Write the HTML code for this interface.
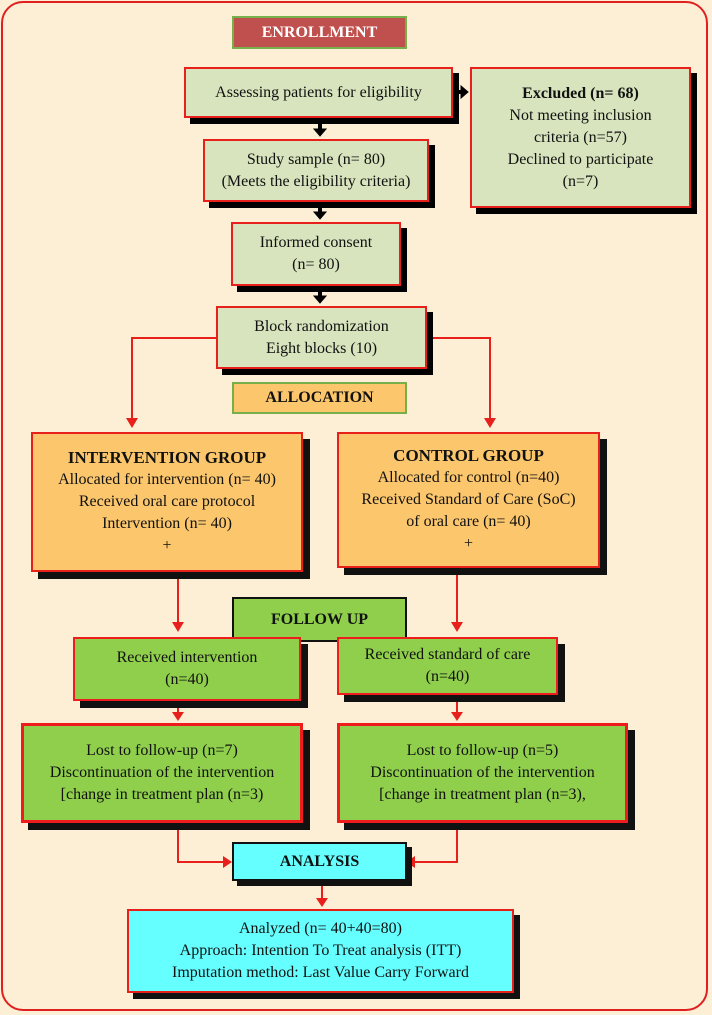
<!DOCTYPE html>
<html><head><meta charset="utf-8"><style>
body{margin:0;width:712px;height:1015px;position:relative;background:#fcefd6;font-family:"Liberation Serif",serif;overflow:hidden}
.frame{position:absolute;left:1px;top:1px;width:707px;height:1010px;border:2px solid #e02020;border-radius:22px;box-sizing:border-box}
.b{position:absolute;box-sizing:border-box;display:flex;flex-direction:column;justify-content:center;align-items:center;text-align:center;font-size:16px;line-height:22px;color:#111}
.g{background:#d7e4bd;border:2px solid #e8201c;box-shadow:6px 6px 0 #000}
.o{background:#fbc66c;border:2px solid #e8201c;box-shadow:7px 7px 0 #111}
.gg{background:#8fcf4c;border:3px solid #ee1c1c;box-shadow:7px 7px 0 #111}
.lab{font-weight:bold;font-size:16px}
svg{position:absolute;left:0;top:0}
</style></head><body>
<div class="frame"></div>
<svg width="712" height="1015">
<g fill="#000" stroke="#000">
<line x1="320" y1="121" x2="320" y2="131" stroke-width="4"/><polygon points="314,129 326,129 320,136"/>
<line x1="320" y1="205" x2="320" y2="214" stroke-width="4"/><polygon points="314,212 326,212 320,219"/>
<line x1="320" y1="289" x2="320" y2="298" stroke-width="4"/><polygon points="314,296 326,296 320,303"/>
<line x1="455" y1="92" x2="463" y2="92" stroke-width="4"/><polygon points="461,86 461,98 468,92"/>
</g>
<g fill="none" stroke="#e8201c" stroke-width="2">
<polyline points="216,338 132,338 132,420"/>
<polyline points="427,338 490,338 490,420"/>
<line x1="178" y1="571" x2="178" y2="625"/>
<line x1="457" y1="567" x2="457" y2="625"/>
<line x1="178" y1="701" x2="178" y2="715"/>
<line x1="457" y1="695" x2="457" y2="715"/>
<polyline points="178,822 178,862 225,862"/>
<polyline points="457,822 457,862 413,862"/>
<line x1="322" y1="880" x2="322" y2="900"/>
</g>
<g fill="#e8201c">
<polygon points="126,418 138,418 132,428"/>
<polygon points="484,418 496,418 490,428"/>
<polygon points="172,622 184,622 178,632"/>
<polygon points="451,622 463,622 457,632"/>
<polygon points="172,712 184,712 178,721"/>
<polygon points="451,712 463,712 457,721"/>
<polygon points="223,856 223,868 232,862"/>
<polygon points="415,856 415,868 406,862"/>
<polygon points="316,898 328,898 322,907"/>
</g>
</svg>
<div class="b lab" style="left:232px;top:16px;width:175px;height:33px;background:#c0504d;border:2px solid #77b04a;color:#fff">ENROLLMENT</div>
<div class="b g" style="left:184px;top:67px;width:269px;height:51px">Assessing patients for eligibility</div>
<div class="b g" style="left:470px;top:67px;width:221px;height:141px"><b>Excluded (n= 68)</b>Not meeting inclusion<br>criteria (n=57)<br>Declined to participate<br>(n=7)</div>
<div class="b g" style="left:203px;top:139px;width:226px;height:63px">Study sample (n= 80)<br>(Meets the eligibility criteria)</div>
<div class="b g" style="left:231px;top:222px;width:170px;height:64px">Informed consent<br>(n= 80)</div>
<div class="b g" style="left:216px;top:306px;width:211px;height:63px">Block randomization<br>Eight blocks (10)</div>
<div class="b lab" style="left:232px;top:382px;width:175px;height:32px;background:#fbc66c;border:2px solid #77b04a">ALLOCATION</div>
<div class="b o" style="left:31px;top:432px;width:272px;height:140px"><b style="font-size:17px">INTERVENTION GROUP</b>Allocated for intervention (n= 40)<br>Received oral care protocol<br>Intervention (n= 40)<br>+</div>
<div class="b o" style="left:337px;top:432px;width:263px;height:136px"><b style="font-size:17px">CONTROL GROUP</b>Allocated for control (n=40)<br>Received Standard of Care (SoC)<br>of oral care (n= 40)<br>+</div>
<div class="b lab" style="left:232px;top:597px;width:175px;height:45px;background:#8fcf4c;border:2px solid #111">FOLLOW UP</div>
<div class="b gg" style="left:73px;top:637px;width:228px;height:64px;border-width:2px">Received intervention<br>(n=40)</div>
<div class="b gg" style="left:337px;top:637px;width:221px;height:58px;border-width:2px">Received standard of care<br>(n=40)</div>
<div class="b gg" style="left:21px;top:723px;width:282px;height:100px">Lost to follow-up (n=7)<br>Discontinuation of the intervention<br>[change in treatment plan (n=3)</div>
<div class="b gg" style="left:337px;top:723px;width:291px;height:100px">Lost to follow-up (n=5)<br>Discontinuation of the intervention<br>[change in treatment plan (n=3),</div>
<div class="b lab" style="left:232px;top:842px;width:175px;height:39px;background:#66ffff;border:2px solid #111;box-shadow:5px 5px 0 #111">ANALYSIS</div>
<div class="b" style="left:127px;top:909px;width:387px;height:84px;background:#66ffff;border:2px solid #e8201c;box-shadow:6px 6px 0 #111">Analyzed (n= 40+40=80)<br>Approach: Intention To Treat analysis (ITT)<br>Imputation method: Last Value Carry Forward</div>
</body></html>
